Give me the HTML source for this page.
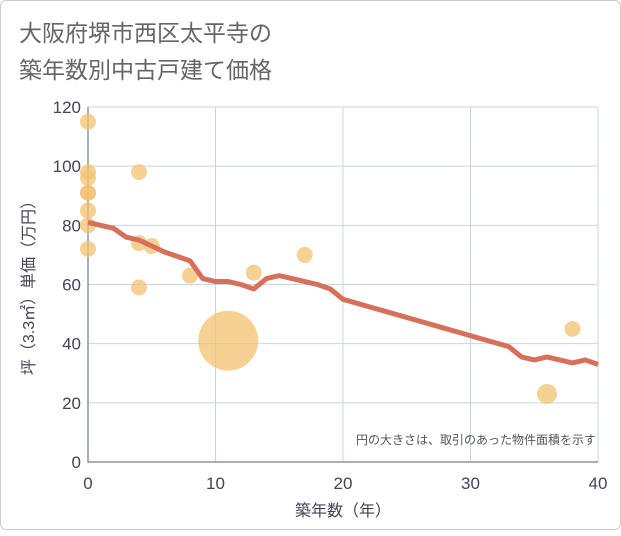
<!DOCTYPE html>
<html><head><meta charset="utf-8"><style>
body{margin:0;background:#fff;}
.card{position:absolute;left:0;top:0;width:619px;height:528px;border:1px solid #ccc;border-radius:6px;background:#fff;}
text{font-family:"Liberation Sans","Noto Sans CJK JP",sans-serif;}
</style></head><body>
<div class="card">
<svg id="c" width="621" height="530">
<text x="18" y="40" font-size="23" fill="#666">大阪府堺市西区太平寺の</text>
<text x="18" y="77" font-size="23" fill="#666">築年数別中古戸建て価格</text>
<g id="grid"></g><g id="marks"></g>
<text x="595" y="443" font-size="12" fill="#555" text-anchor="end">円の大きさは、取引のあった物件面積を示す</text>
<text x="342" y="515" font-size="16" fill="#445" text-anchor="middle">築年数（年）</text>
<text transform="translate(33,283) rotate(-90)" font-size="16" fill="#445" text-anchor="middle">坪（3.3㎡）単価（万円）</text>
</svg></div>
<script>
const xTicks=[0,10,20,30,40];
const yTicks=[0,20,40,60,80,100,120];
const scatterX=[0,0,0,0,0,0,0,0,4,4,4,5,8,11,13,17,36,38];
const scatterY=[115,98,96,91,91,85,80,72,98,74,59,73,63,41,64,70,23,45];
const scatterR=[8,8,8,8,8,8,8,8,8,8,8,8,8,30,8,8,10,8];
const lineX=[0,2,3,4,5,6,7,8,9,10,11,12,13,14,15,16,17,18,19,20,33,34,35,36,37,38,39,40];
const lineY=[81,79,76,75,73,71,69.5,68,62,61,61,60,58.5,62,63,62,61,60,58.5,55,39,35.5,34.5,35.5,34.5,33.5,34.5,33];
const X=v=>87+v*(510/40), Y=v=>461-v*(355/120);
const NS="http://www.w3.org/2000/svg";
const g=document.getElementById('grid'), m=document.getElementById('marks');
function el(t,a,p){const e=document.createElementNS(NS,t);for(const k in a)e.setAttribute(k,a[k]);p.appendChild(e);return e;}
xTicks.forEach(v=>{
 const l=el('line',{x1:X(v),x2:X(v),y1:Y(120),y2:Y(0),stroke:'#c8d4e3','stroke-width':1},g);
 
 
 const t=el('text',{x:X(v),y:488,'font-size':17,fill:'#445','text-anchor':'middle'},g);t.textContent=v;
 
 
});
yTicks.forEach(v=>{
 const l=el('line',{x1:X(0),x2:X(40),y1:Y(v),y2:Y(v),stroke:'#c8d4e3','stroke-width':1},g);
 
 
 const t=el('text',{x:80,y:Y(v)+6,'font-size':17,fill:'#445','text-anchor':'end'},g);t.textContent=v;
 
 
});
const ax=el('path',{d:`M${X(0)},${Y(120)}V${Y(0)}H${X(40)}`,stroke:'#8a96a6',fill:'none','stroke-width':1.5},g);


scatterX.forEach((v,i)=>{
 const c=el('circle',{cx:X(v),cy:Y(scatterY[i]),r:scatterR[i],fill:'#f3c170','fill-opacity':0.75},m);
 
 
});
const p=el('polyline',{points:lineX.map((v,i)=>X(v)+','+Y(lineY[i])).join(' '),fill:'none',stroke:'#d6705a','stroke-width':5,'stroke-linejoin':'round'},m);


</script>
</body></html>
